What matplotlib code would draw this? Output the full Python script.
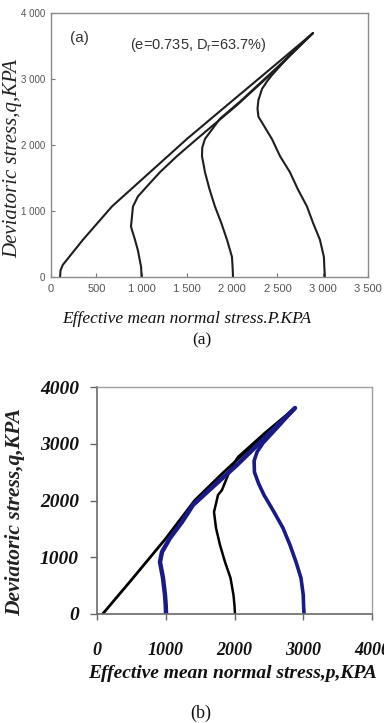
import matplotlib
matplotlib.use("Agg")
import matplotlib.pyplot as plt

# ---------------- data: panel (a) ----------------
a_xticks = [0, 500, 1000, 1500, 2000, 2500, 3000, 3500]
a_xticklabels = ["0", "500", "1 000", "1 500", "2 000", "2 500", "3 000", "3 500"]
a_yticks = [0, 1000, 2000, 3000, 4000]
a_yticklabels = ["0", "1 000", "2 000", "3 000", "4 000"]

a_p1 = [100, 105, 130, 353, 673, 1093, 1501, 1950, 2420, 2892]
a_q1 = [0, 100, 183, 565, 1069, 1588, 2092, 2610, 3150, 3695]

a_p2 = [1000, 995, 960, 927, 883, 905, 960, 1060, 1203, 1391, 1611, 2050, 2480, 2892]
a_q2 = [0, 150, 400, 565, 763, 1069, 1221, 1374, 1588, 1832, 2092, 2600, 3140, 3695]

a_p3 = [2010, 2005, 1998, 1943, 1880, 1810, 1750, 1700, 1667, 1670, 1700, 1865, 2086, 2500, 2892]
a_q3 = [0, 150, 305, 565, 820, 1069, 1330, 1588, 1832, 1960, 2092, 2397, 2656, 3180, 3695]

a_p4 = [3024, 3018, 3013, 2969, 2892, 2826, 2726, 2638, 2528, 2439, 2290, 2280, 2290, 2330, 2384, 2440, 2650, 2892]
a_q4 = [0, 150, 305, 565, 824, 1069, 1328, 1588, 1832, 2092, 2430, 2550, 2680, 2850, 2962, 3060, 3380, 3695]

# ---------------- data: panel (b) ----------------
b_xticks = [0, 1000, 2000, 3000, 4000]
b_yticks = [0, 1000, 2000, 3000, 4000]

b_p1 = [80, 110, 500, 1000, 1420, 1800, 2200, 2560, 2880]
b_q1 = [0, 40, 600, 1330, 2000, 2450, 2900, 3300, 3630]

b_p2 = [1004, 1000, 989, 960, 916, 945, 1062, 1236, 1396, 1620, 2030, 2420, 2880]
b_q2 = [0, 150, 335, 634, 916, 1093, 1339, 1621, 1921, 2170, 2620, 3080, 3630]

b_p3 = [2007, 2000, 1985, 1942, 1862, 1789, 1731, 1702, 1760, 1818, 1935, 2051, 2450, 2880]
b_q3 = [0, 150, 335, 634, 916, 1216, 1515, 1797, 2097, 2185, 2537, 2767, 3200, 3630]

b_p4 = [3011, 3005, 3000, 2967, 2895, 2807, 2705, 2575, 2429, 2350, 2290, 2285, 2330, 2415, 2650, 2880]
b_q4 = [0, 150, 335, 634, 916, 1216, 1515, 1797, 2097, 2300, 2500, 2700, 2860, 3013, 3320, 3630]

SERIF = ["Liberation Serif", "DejaVu Serif"]
SANS = ["Liberation Sans", "DejaVu Sans"]

W, H = 384, 723
fig = plt.figure(figsize=(W / 100, H / 100), dpi=100)
fig.patch.set_facecolor("white")


def fx(px):
    return px / W


def fy(py):
    return 1 - py / H


# ---------------- panel (a) ----------------
axa = fig.add_axes([fx(51), fy(277), fx(368 - 51), (277 - 13) / H])
lc = "#1e1e1e"
for p, q in [(a_p1, a_q1), (a_p2, a_q2), (a_p3, a_q3), (a_p4, a_q4)]:
    axa.plot(p, q, color=lc, lw=1.5, solid_joinstyle="round", solid_capstyle="round")
axa.set_xlim(0, 3500)
axa.set_ylim(0, 4000)
axa.set_xticks(a_xticks)
axa.set_xticklabels(a_xticklabels, family=SANS, fontsize=8, color="#555555")
axa.set_yticks(a_yticks)
axa.set_yticklabels(a_yticklabels, family=SANS, fontsize=7, color="#555555")
axa.tick_params(direction="in", length=3, width=0.8, color="#777777", pad=4)
axa.tick_params(axis="x", pad=5)
for s in axa.spines.values():
    s.set_color("#8a8a8a")
    s.set_linewidth(1.0)
axa.text(0.06, 0.905, "(a)", transform=axa.transAxes, family=SANS, fontsize=11,
         color="#333333", ha="left", va="center")
axa.text(0.465, 0.88, "(e=0.735, D$_\\mathregular{r}$=63.7%)", transform=axa.transAxes,
         family=SANS, fontsize=10.5, color="#333333", ha="center", va="center")

fig.text(fx(13), fy(159), "Deviatoric stress,q,KPA", rotation=90, family=SERIF,
         style="italic", fontsize=15, color="#222222", ha="center", va="center")
fig.text(fx(187), fy(319), "Effective mean normal stress.P.KPA", family=SERIF,
         style="italic", fontsize=12.5, color="#111111", ha="center", va="center")
fig.text(fx(202), fy(340), "(a)", family=SERIF, fontsize=12.5, color="#111111",
         ha="center", va="center")

# ---------------- panel (b) ----------------
axb = fig.add_axes([fx(97), fy(614), fx(372 - 97), (614 - 387) / H])
blue = "#1a1a86"
axb.plot(b_p1, b_q1, color="black", lw=2.0, solid_capstyle="round")
axb.plot(b_p3, b_q3, color="black", lw=1.8, solid_capstyle="round")
axb.plot(b_p2, b_q2, color=blue, lw=3.2, solid_capstyle="round")
axb.plot(b_p4, b_q4, color=blue, lw=2.6, solid_capstyle="round")
axb.set_xlim(0, 4000)
axb.set_ylim(0, 4000)
axb.set_xticks(b_xticks)
axb.set_xticklabels([str(v) for v in b_xticks], family=SERIF, style="italic",
                    weight="bold", fontsize=13, color="#111111")
axb.set_yticks(b_yticks)
axb.set_yticklabels([str(v) for v in b_yticks], family=SERIF, style="italic",
                    weight="bold", fontsize=14, color="#111111")
axb.tick_params(axis="y", direction="out", length=5, width=1, color="#666666", pad=8)
axb.tick_params(axis="x", direction="out", length=4, width=1, color="#666666", pad=16)
for k in ["left", "bottom"]:
    axb.spines[k].set_color("#6a6a6a")
    axb.spines[k].set_linewidth(1.2)
for k in ["top", "right"]:
    axb.spines[k].set_color("#a0a0a0")
    axb.spines[k].set_linewidth(1.0)

fig.text(fx(15), fy(512), "Deviatoric stress,q,KPA", rotation=90, family=SERIF,
         style="italic", weight="bold", fontsize=15.5, color="#222222",
         ha="center", va="center")
fig.text(fx(233), fy(674), "Effective mean normal stress,p,KPA", family=SERIF,
         style="italic", weight="bold", fontsize=14, color="#111111",
         ha="center", va="center")
fig.text(fx(201), fy(713), "(b)", family=SERIF, fontsize=13, color="#111111",
         ha="center", va="center")

fig.savefig("out.png", dpi=100)
